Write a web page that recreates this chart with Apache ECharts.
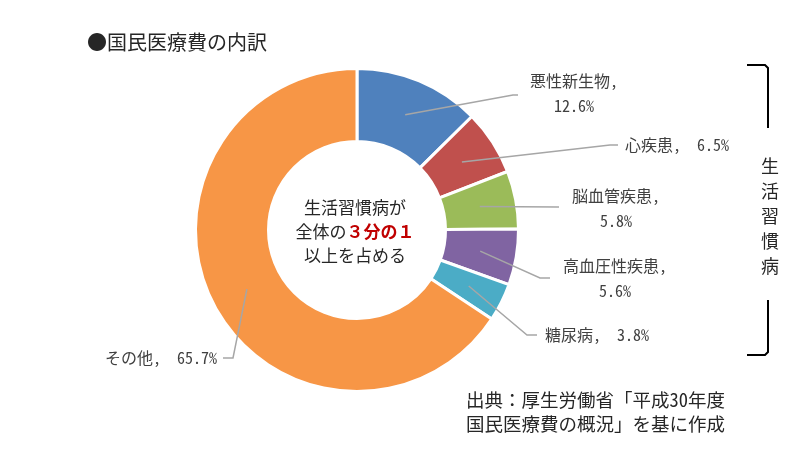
<!DOCTYPE html>
<html>
<head>
<meta charset="utf-8">
<script src="https://cdn.jsdelivr.net/npm/echarts@6/dist/echarts.min.js"></script>
<style>
html,body{margin:0;padding:0;background:#fff;}
#chart{width:797px;height:450px;}
</style>
</head>
<body>
<div id="chart"></div>
<script>
// ---- data ----
const categories = ['悪性新生物', '心疾患', '脳血管疾患', '高血圧性疾患', '糖尿病', 'その他'];
const values = [12.6, 6.5, 5.8, 5.6, 3.8, 65.7];
const twoLine = [true, false, true, true, false, false];
const titleText = '●国民医療費の内訳';
const centerLines = ['生活習慣病が', '全体の', '３分の１', '以上を占める'];
const sideText = '生活習慣病';
const sourceLines = ['出典：厚生労働省「平成30年度', '国民医療費の概況」を基に作成'];

// ---- layout / style ----
const colors = ['#4f81bd', '#c0504d', '#9bbb59', '#8064a2', '#4bacc6', '#f79646'];
const CX = 357, CY = 230, R_IN = 88.5, R_OUT = 161.5, R_ANCHOR = 125;
const labelPos = [
  {x: 574, y: 93, align: 'center', bend: [513, 95], end: [518, 95]},
  {x: 625, y: 145, align: 'left', bend: [610, 145], end: [618, 145]},
  {x: 616, y: 208, align: 'center', bend: [558, 207], end: [559, 207]},
  {x: 615, y: 278, align: 'center', bend: [540, 278], end: [550, 278]},
  {x: 545, y: 335, align: 'left', bend: [527, 335], end: [537, 335]},
  {x: 217, y: 358, align: 'right', bend: [233, 358], end: [223, 358]}
];
const FONT = '"Noto Sans Mono CJK JP", "Noto Sans CJK JP", "Noto Sans", sans-serif';
const TXT = '#404040';

const total = values.reduce((a, b) => a + b, 0);
const midAngles = [];
let acc = 0;
values.forEach(v => { midAngles.push((acc + v / 2) / total * 2 * Math.PI); acc += v; });

// leader lines: from inside each slice (at its mid-angle) to its label
const leaderLines = midAngles.map((a, i) => ({
  type: 'polyline', z: 10, silent: true,
  shape: {points: [[CX + R_ANCHOR * Math.sin(a), CY - R_ANCHOR * Math.cos(a)], labelPos[i].bend, labelPos[i].end]},
  style: {stroke: '#a6a6a6', lineWidth: 1.5, fill: null}
}));

const chart = echarts.init(document.getElementById('chart'), null, {renderer: 'canvas'});
chart.setOption({
  animation: false,
  title: {
    text: titleText, left: 82, top: 27,
    textStyle: {fontFamily: FONT, fontSize: 20, fontWeight: 'normal', color: '#262626'}
  },
  series: [{
    type: 'pie',
    center: [CX, CY],
    radius: [R_IN, R_OUT],
    startAngle: 90,
    clockwise: true,
    silent: true,
    avoidLabelOverlap: false,
    itemStyle: {borderColor: '#fff', borderWidth: 3},
    label: {
      show: true,
      position: 'outside',
      fontFamily: FONT, fontSize: 16, color: TXT, lineHeight: 25,
      formatter: p => p.name + (twoLine[p.dataIndex] ? ',\n' : ',  ') + p.value.toFixed(1) + '%'
    },
    labelLine: {show: false},
    labelLayout: function (params) {
      const L = labelPos[params.dataIndex];
      return {x: L.x, y: L.y, align: L.align, verticalAlign: 'middle'};
    },
    emphasis: {disabled: true},
    data: categories.map((c, i) => ({name: c, value: values[i], itemStyle: {color: colors[i]}}))
  }],
  graphic: leaderLines.concat([
    {
      type: 'text', x: 355, y: 232,
      style: {
        text: '{a|' + centerLines[0] + '}\n{a|' + centerLines[1] + '}{b|' + centerLines[2] + '}\n{a|' + centerLines[3] + '}',
        align: 'center', verticalAlign: 'middle',
        rich: {
          a: {fontFamily: FONT, fontSize: 17, fill: '#262626', lineHeight: 24},
          b: {fontFamily: FONT, fontSize: 17, fill: '#c00000', fontWeight: 'bold', lineHeight: 24}
        }
      }
    },
    {
      type: 'text', x: 770, y: 216,
      style: {
        text: sideText.split('').join('\n'),
        align: 'center', verticalAlign: 'middle',
        fontFamily: FONT, fontSize: 18, lineHeight: 25, fill: '#262626'
      }
    },
    {
      type: 'polyline',
      shape: {points: [[747, 65], [765, 65], [768, 68], [768, 128]]},
      style: {stroke: '#000', lineWidth: 2, fill: null}
    },
    {
      type: 'polyline',
      shape: {points: [[768, 300], [768, 352], [765, 355], [747, 355]]},
      style: {stroke: '#000', lineWidth: 2, fill: null}
    },
    {
      type: 'text', x: 466, y: 412,
      style: {
        text: sourceLines.join('\n'),
        align: 'left', verticalAlign: 'middle',
        fontFamily: FONT, fontSize: 18.5, lineHeight: 24, fill: '#262626'
      }
    }
  ])
});
</script>
</body>
</html>
